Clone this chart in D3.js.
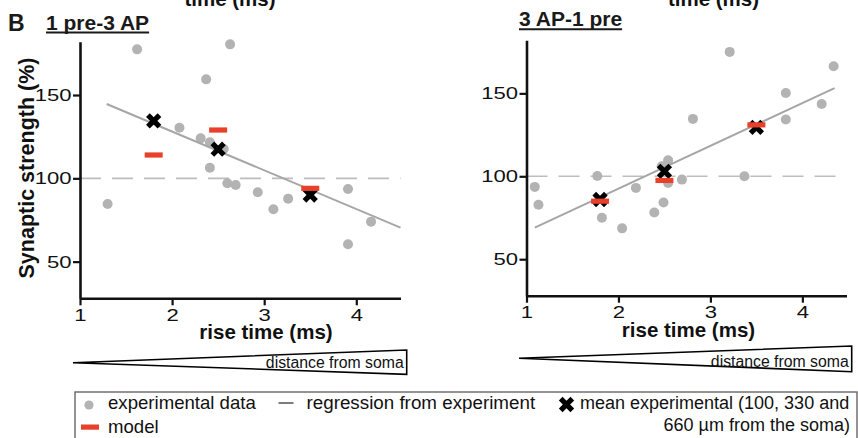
<!DOCTYPE html>
<html><head><meta charset="utf-8">
<script src="https://cdn.jsdelivr.net/npm/d3@7"></script>
<style>
html,body{margin:0;padding:0;background:#fff;}
svg{display:block;font-family:"Liberation Sans",Arial,Helvetica,sans-serif;}
</style></head><body>
<svg id="chart" width="858" height="438"></svg>
<script>
// ---- 1 pre-3 AP ----
const leftRise     = [1.30, 1.62, 2.08, 2.31, 2.37, 2.41, 2.41, 2.56, 2.60, 2.63, 2.69, 2.93, 3.10, 3.26, 3.91, 3.91, 4.16];
const leftStrength = [84.6, 177.4, 130.4, 124.0, 159.4, 121.6, 106.4, 117.6, 97.0, 180.4, 96.0, 91.6, 81.4, 87.8, 93.6, 60.4, 74.0];
const leftModelRise = [1.8, 2.5, 3.5];
const leftModelStrength = [114, 129, 94];
const leftMeanRise = [1.8, 2.5, 3.5];
const leftMeanStrength = [134.5, 117.5, 90];
const leftRegRise = [1.29, 4.48];
const leftRegStrength = [144.6, 70.4];

// ---- 3 AP-1 pre ----
const rightRise     = [1.09, 1.13, 1.77, 1.82, 2.04, 2.19, 2.39, 2.47, 2.49, 2.54, 2.54, 2.69, 2.81, 3.21, 3.37, 3.82, 3.82, 4.21, 4.34];
const rightStrength = [93.6, 82.8, 100.2, 75.0, 68.6, 93.0, 78.2, 106.0, 84.2, 96.0, 109.6, 98.0, 134.6, 175.0, 100.0, 150.2, 134.2, 143.6, 166.4];
const rightModelRise = [1.8, 2.5, 3.5];
const rightModelStrength = [85, 97.5, 131];
const rightMeanRise = [1.8, 2.5, 3.5];
const rightMeanStrength = [86, 103, 129.5];
const rightRegRise = [1.09, 4.35];
const rightRegStrength = [69, 153.2];

// ---- axes ----
const xTicks = [1, 2, 3, 4];
const yTicks = [50, 100, 150];
const xDomain = [1, 4.48];
const yDomain = [28, 182];
const baseline = 100;

const C = {
  dot: "#b3b3b3",
  reg: "#a6a6a6",
  dash: "#bdbdbd",
  red: "#e8402a",
  ink: "#111"
};

const svg = d3.select("#chart");

function xMark(g, x, y) {
  g.append("path")
    .attr("d", `M${x-5.8},${y-5.8}L${x+5.8},${y+5.8}M${x+5.8},${y-5.8}L${x-5.8},${y+5.8}`)
    .attr("stroke", "#000").attr("stroke-width", 5.2).attr("fill", "none");
}

function drawPanel(p) {
  const g = svg.append("g");
  const x = d3.scaleLinear().domain(xDomain).range(p.xRange);
  const y = d3.scaleLinear().domain(yDomain).range(p.yRange);

  // reference line at 100 %
  g.append("line")
    .attr("x1", p.xRange[0]).attr("x2", p.xRange[1])
    .attr("y1", y(baseline)).attr("y2", y(baseline))
    .attr("stroke", C.dash).attr("stroke-width", 1.6)
    .attr("stroke-dasharray", "21,11");

  // experimental points
  g.selectAll("circle.exp").data(p.rise.map((r, i) => [r, p.strength[i]]))
    .join("circle").attr("class", "exp")
    .attr("cx", d => x(d[0])).attr("cy", d => y(d[1])).attr("r", 5)
    .attr("fill", C.dot);

  // regression line
  g.append("path")
    .datum(p.regRise.map((r, i) => [r, p.regStrength[i]]))
    .attr("d", d3.line().x(d => x(d[0])).y(d => y(d[1])))
    .attr("stroke", C.reg).attr("stroke-width", 2).attr("fill", "none");

  // means
  p.meanRise.forEach((r, i) => xMark(g, x(r), y(p.meanStrength[i])));

  // model
  g.selectAll("rect.model").data(p.modelRise.map((r, i) => [r, p.modelStrength[i]]))
    .join("rect").attr("class", "model")
    .attr("x", d => x(d[0]) - 9).attr("y", d => y(d[1]) - 2.6)
    .attr("width", 18).attr("height", 5.2)
    .attr("fill", C.red);

  // axes
  const ya = g.append("g").attr("transform", `translate(${p.xRange[0]},0)`)
    .call(d3.axisLeft(y).tickValues(yTicks).tickSize(7).tickSizeOuter(0));
  const xa = g.append("g").attr("transform", `translate(0,${p.yRange[0]})`)
    .call(d3.axisBottom(x).tickValues(xTicks).tickFormat(d3.format("d")).tickSize(7).tickSizeOuter(0));
  [ya, xa].forEach(a => {
    a.select(".domain").attr("stroke", C.ink).attr("stroke-width", 2.6);
    a.selectAll(".tick line").attr("stroke", C.ink).attr("stroke-width", 2.2);
    a.selectAll(".tick text").attr("fill", "#111").style("font-size", "17px");
  });
  ya.selectAll(".tick text").attr("x", 0).attr("transform", "translate(-8.5,0) scale(1.3,1)");
  xa.selectAll(".tick text").attr("y", 0).attr("transform", "translate(0,10.5) scale(1.3,1)");

  // axis title
  g.append("text").attr("x", p.xTitle[0]).attr("y", p.xTitle[1])
    .attr("text-anchor", "middle").attr("font-weight", "bold").attr("font-size", 20.5)
    .attr("fill", "#111").text("rise time (ms)");

  // panel title with underline
  const t = g.append("text").attr("x", p.title[0]).attr("y", p.title[1])
    .attr("font-weight", "bold").attr("font-size", 21).attr("fill", "#1a1a1a").text(p.name);
  const w = t.node().getComputedTextLength();
  g.append("line").attr("x1", p.title[0]).attr("x2", p.title[0] + w)
    .attr("y1", p.title[1] + 3).attr("y2", p.title[1] + 3)
    .attr("stroke", "#1a1a1a").attr("stroke-width", 2);

  // clipped title of the panel above
  g.append("text").attr("x", p.topCut).attr("y", 6)
    .attr("text-anchor", "middle").attr("font-weight", "bold").attr("font-size", 20.5)
    .attr("fill", "#111").text("time (ms)");

  // distance wedge
  const tr = p.wedge;
  g.append("path")
    .attr("d", `M${tr.tip[0]},${tr.tip[1]}L${tr.right},${tr.top}L${tr.right},${tr.bottom}Z`)
    .attr("fill", "#fff").attr("stroke", "#000").attr("stroke-width", 1.6)
    .attr("stroke-linejoin", "miter");
  g.append("text").attr("x", tr.right - 3).attr("y", tr.textY)
    .attr("text-anchor", "end").attr("font-size", 15.8).attr("fill", "#111")
    .text("distance from soma");
}

drawPanel({
  name: "1 pre-3 AP",
  rise: leftRise, strength: leftStrength,
  modelRise: leftModelRise, modelStrength: leftModelStrength,
  meanRise: leftMeanRise, meanStrength: leftMeanStrength,
  regRise: leftRegRise, regStrength: leftRegStrength,
  xRange: [80, 400.5], yRange: [298.3, 41.7],
  xTitle: [266, 339], title: [46, 29.5], topCut: 230,
  wedge: { tip: [73, 362.7], right: 406.7, top: 350, bottom: 374.3, textY: 368 }
});

drawPanel({
  name: "3 AP-1 pre",
  rise: rightRise, strength: rightStrength,
  modelRise: rightModelRise, modelStrength: rightModelStrength,
  meanRise: rightMeanRise, meanStrength: rightMeanStrength,
  regRise: rightRegRise, regStrength: rightRegStrength,
  xRange: [526.5, 846.5], yRange: [295.7, 40.3],
  xTitle: [688.5, 337], title: [519, 26.3], topCut: 713.5,
  wedge: { tip: [519, 358.3], right: 851.7, top: 346, bottom: 371.7, textY: 366.5 }
});

// panel letter and y title
svg.append("text").attr("x", 8).attr("y", 31)
  .attr("font-weight", "bold").attr("font-size", 23).attr("fill", "#1a1a1a").text("B");
svg.append("text").attr("transform", "translate(33.5,168) rotate(-90)")
  .attr("text-anchor", "middle").attr("font-weight", "bold").attr("font-size", 21.5)
  .attr("fill", "#111").text("Synaptic strength (%)");

// legend
const lg = svg.append("g");
lg.append("rect").attr("x", 75).attr("y", 392).attr("width", 782).attr("height", 60)
  .attr("fill", "none").attr("stroke", "#666").attr("stroke-width", 1.4);
lg.append("circle").attr("cx", 89).attr("cy", 405).attr("r", 4.6).attr("fill", C.dot);
lg.append("text").attr("x", 108).attr("y", 408.5).attr("font-size", 18.6).attr("fill", "#111").text("experimental data");
lg.append("line").attr("x1", 278.5).attr("x2", 293.5).attr("y1", 403).attr("y2", 403)
  .attr("stroke", "#333").attr("stroke-width", 1.3);
lg.append("text").attr("x", 306.5).attr("y", 408.5).attr("font-size", 18.8).attr("fill", "#111").text("regression from experiment");
xMark(lg, 566.5, 404.5);
lg.append("text").attr("x", 580).attr("y", 408.5).attr("font-size", 18).attr("fill", "#111")
  .text("mean experimental (100, 330 and");
lg.append("text").attr("x", 850).attr("y", 431).attr("text-anchor", "end").attr("font-size", 18).attr("fill", "#111")
  .text("660 µm from the soma)");
lg.append("rect").attr("x", 81).attr("y", 424.5).attr("width", 18).attr("height", 5.2).attr("fill", C.red);
lg.append("text").attr("x", 108).attr("y", 433).attr("font-size", 18.6).attr("fill", "#111").text("model");
</script>
</body></html>
